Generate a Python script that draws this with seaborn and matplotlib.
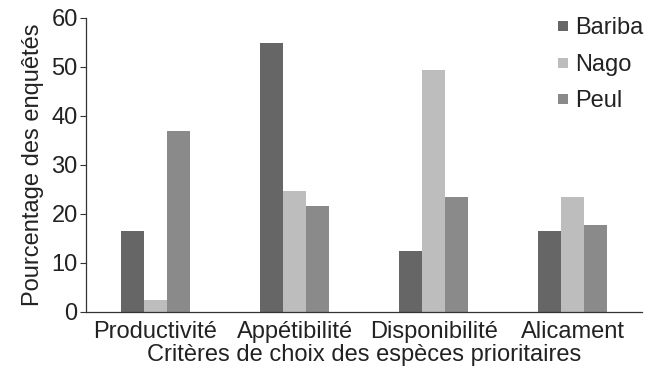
import pandas as pd
import matplotlib
matplotlib.use('Agg')
import matplotlib.pyplot as plt
import seaborn as sns
from matplotlib.lines import Line2D

# Data
criteres = ['Productivité', 'Appétibilité', 'Disponibilité', 'Alicament']
groupes = ['Bariba', 'Nago', 'Peul']
bariba = [16.5, 54.8, 12.4, 16.5]
nago = [2.4, 24.6, 49.3, 23.5]
peul = [36.9, 21.6, 23.5, 17.8]
couleurs = ['#666666', '#bdbdbd', '#8a8a8a']

df = pd.DataFrame({
    'critere': criteres * 3,
    'groupe': [g for g in groupes for _ in criteres],
    'valeur': bariba + nago + peul,
})

sns.set_style('white')
plt.rcParams['font.family'] = ['Liberation Sans', 'DejaVu Sans']
fs = 17

fig = plt.figure(figsize=(6.54, 3.74), dpi=100)
ax = fig.add_axes([0.1315, 0.166, 0.8505, 0.786])
sns.barplot(data=df, x='critere', y='valeur', hue='groupe', order=criteres,
            hue_order=groupes, palette=couleurs, width=0.5, saturation=1,
            linewidth=0, ax=ax, legend=False)

ax.set_xlim(-0.5, 3.5)
ax.set_ylim(0, 60)
ax.set_yticks(range(0, 61, 10))
ax.tick_params(axis='y', left=True, length=4, width=0.8, labelsize=fs, color='#333333', pad=2)
ax.tick_params(axis='x', bottom=False, labelsize=fs, pad=3)
for s in ['top', 'right']:
    ax.spines[s].set_visible(False)
for s in ['left', 'bottom']:
    ax.spines[s].set_color('#333333')
    ax.spines[s].set_linewidth(0.9)
ax.set_xlabel('Critères de choix des espèces prioritaires', fontsize=fs, color='#222222', labelpad=1)
ax.set_ylabel('Pourcentage des enquêtés', fontsize=fs, color='#222222', labelpad=5)
for t in ax.get_xticklabels() + ax.get_yticklabels():
    t.set_color('#222222')

handles = [Line2D([0], [0], marker='s', linestyle='', markersize=7,
                  markerfacecolor=c, markeredgewidth=0) for c in couleurs]
ax.legend(handles, groupes, loc='upper right', bbox_to_anchor=(1.04, 1.075),
          frameon=False, fontsize=fs, handlelength=0.6, handletextpad=0.2,
          labelspacing=0.62, labelcolor='#222222')

fig.savefig('out.png', dpi=100)
